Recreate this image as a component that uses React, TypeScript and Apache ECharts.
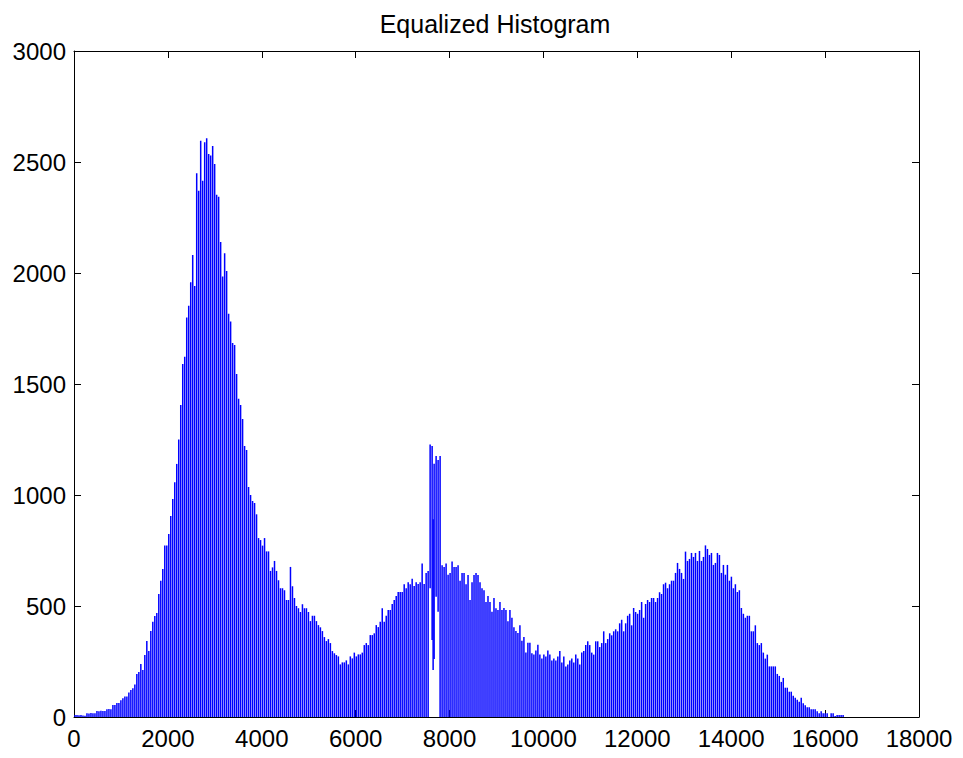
import React, { useEffect, useRef } from "react";
import * as echarts from "echarts";

// Width of one histogram bin in intensity units (16384 levels / 385.5 bins).
const BIN_WIDTH = 42.5;

// Pixel counts per bin, bin 0 upward. Bins 178-182 are drawn from the split arrays below.
const binCounts: number[] = [
  9, 9, 8, 9, 7, 6,
  17, 16, 18, 17, 17,
  27, 26, 28, 27, 27,
  35, 36, 35,
  54, 54, 63, 63,
  75, 85, 92, 92, 110, 122, 130, 146,
  194, 203, 239, 212, 279, 342, 297, 387, 429, 455, 468, 554, 614, 667, 772, 772, 824, 905, 982, 1057,
  1140, 1250,
  1405, 1590, 1623, 1799, 1852, 1958, 2081, 1942, 2449, 2370, 2596, 2415, 2589, 2607, 2536, 2529,
  2572, 2491, 2352, 2343, 2140, 1984, 2089, 2009, 1817, 1781, 1685, 1676, 1545, 1433, 1405, 1342,
  1221, 1203, 1036, 1000, 973, 964, 913, 806, 797, 772, 806, 746, 746, 658, 674, 703, 658, 616, 580, 580,
  571, 527, 527, 676, 589, 536, 500, 490, 473, 508, 490, 490, 473, 432, 456, 456, 432, 414, 404, 387,
  360, 342, 351, 333, 297, 287, 279, 273, 237, 246, 246, 255, 237, 273, 264, 290, 273, 282, 282, 290,
  324, 333, 324, 369, 369, 377, 414, 405, 429, 490, 429, 456, 482,
  482, 509, 527, 545, 563, 563, 563, 598, 580, 607, 598, 623, 590, 607, 599, 607, 692, 599, 649, 658,
  0, 0, 0, 0, 0,
  1176,
  683, 676, 692, 641, 649, 701, 676, 676, 683, 614, 649, 649, 598, 640, 527, 607, 640, 649, 640, 607,
  580, 571, 518, 545, 518, 474, 536, 490, 482, 518, 482, 491, 482, 431, 482, 447, 404, 387, 378, 413,
  344, 360, 291, 335, 335, 287, 282, 300, 326,
  281, 264, 281, 272, 299, 281, 255, 264, 255, 273, 297, 245, 272, 228, 237, 255, 263, 246, 281, 263,
  237, 290, 297, 324, 341, 324, 290, 281, 341, 341, 315, 333, 386, 333, 351, 377, 368, 386, 395, 386,
  422, 438, 386, 422, 456, 465, 413, 491, 473, 465, 482, 518, 447, 509, 527, 518, 536, 536, 518, 536,
  562, 554, 598, 605, 580, 598, 614, 614, 649, 694, 667, 649, 622, 745, 703, 712,
  739, 721, 739, 703, 748, 703, 721, 773, 757, 730, 739, 685, 694, 739, 730, 649, 685, 641, 685, 614,
  632, 580, 598, 563, 571, 491, 465, 447, 456, 456, 386, 386, 413, 333, 324, 333, 290, 263, 281, 228,
  228, 228, 228, 194, 185, 158, 176, 132, 132, 114, 114, 96, 87, 78, 69, 87, 62, 53, 44, 44,
  35, 35, 35, 26, 17, 26, 17, 17, 17, 0, 17, 17, 4, 9, 9, 9, 9,
];

// Spike cluster near 7600: stems whose lower ends sit above the baseline.
const splitBins = [178, 179, 179.5, 180, 181, 182];
const splitTops = [1228, 1221, 891, 1141, 1176, 1158];
const splitFloors = [580, 347, 212, 261, 542, 474];

const xTicks = { min: 0, max: 18000, interval: 2000 };
const yTicks = { min: 0, max: 3000, interval: 500 };

const FONT = "'Liberation Sans', Arial, Helvetica, sans-serif";

export default function App() {
  const ref = useRef<HTMLDivElement>(null);

  useEffect(() => {
    if (!ref.current) return;
    const chart = echarts.init(ref.current, null, { renderer: "svg" });

    const stems: number[][] = [];
    binCounts.forEach((v, k) => {
      if (v > 0) stems.push([(k + 0.5) * BIN_WIDTH, 0, v]);
    });
    splitBins.forEach((b, i) => {
      stems.push([(b + 0.5) * BIN_WIDTH, splitFloors[i], splitTops[i]]);
    });

    const axisLine = { show: true, onZero: false, lineStyle: { color: "#000", width: 1 } };
    const tick = { show: true, inside: true, length: 7, lineStyle: { color: "#000", width: 1 } };
    const label = {
      color: "#000",
      fontSize: 24,
      fontFamily: FONT,
      formatter: (v: number) => String(v),
    };

    chart.setOption({
      animation: false,
      backgroundColor: "#fff",
      title: {
        text: "Equalized Histogram",
        left: 490,
        top: 6,
        textAlign: "center",
        textStyle: { color: "#000", fontSize: 25, fontWeight: "normal", fontFamily: FONT },
      },
      grid: { left: 74, right: 44, top: 51, bottom: 41, containLabel: false },
      xAxis: [
        {
          type: "value",
          position: "bottom",
          ...xTicks,
          axisLine,
          axisTick: tick,
          axisLabel: { ...label, margin: 9 },
          splitLine: { show: false },
        },
        {
          type: "value",
          position: "top",
          ...xTicks,
          axisLine,
          axisTick: tick,
          axisLabel: { show: false },
          splitLine: { show: false },
        },
      ],
      yAxis: [
        {
          type: "value",
          position: "left",
          ...yTicks,
          axisLine,
          axisTick: tick,
          axisLabel: { ...label, margin: 8 },
          splitLine: { show: false },
        },
        {
          type: "value",
          position: "right",
          ...yTicks,
          axisLine,
          axisTick: tick,
          axisLabel: { show: false },
          splitLine: { show: false },
        },
      ],
      series: [
        {
          type: "custom",
          xAxisIndex: 0,
          yAxisIndex: 0,
          encode: { x: 0, y: [1, 2] },
          data: stems,
          renderItem: (_params: any, api: any) => {
            const x = api.value(0);
            const top = api.coord([x, api.value(2)]);
            const bottom = api.coord([x, api.value(1)]);
            return {
              type: "rect",
              shape: { x: top[0] - 0.75, y: top[1], width: 1.5, height: bottom[1] - top[1] },
              style: { fill: "#0000ff" },
            };
          },
        },
      ],
    });

    return () => chart.dispose();
  }, []);

  return (
    <div
      ref={ref}
      style={{ position: "absolute", left: 0, top: 0, width: 963, height: 758, background: "#fff" }}
    />
  );
}
